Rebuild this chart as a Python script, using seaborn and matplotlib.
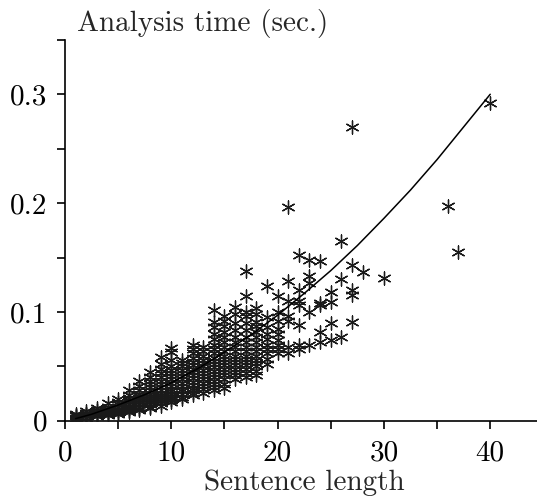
import matplotlib
matplotlib.use("Agg")
import matplotlib.pyplot as plt
import seaborn as sns

# how many sentences of each length were timed
lengths = list(range(1, 28)) + [28, 30, 36, 37, 40]
counts = [5, 6, 7, 8, 9, 11, 12, 14, 16, 17, 14, 16, 14, 19, 18, 16, 17, 15,
          10, 9, 7, 7, 5, 5, 4, 3, 5, 1, 1, 1, 1, 1]

# analysis times (sec.), grouped by sentence length in the same order
anal_time = [
    0.002, 0.003, 0.004, 0.005, 0.006,
    0.003, 0.004, 0.005, 0.006, 0.007, 0.009,
    0.004, 0.005, 0.006, 0.007, 0.008, 0.010, 0.012,
    0.005, 0.006, 0.007, 0.008, 0.009, 0.011, 0.013, 0.016,
    0.006, 0.007, 0.009, 0.010, 0.011, 0.013, 0.015, 0.017, 0.020,
    0.008, 0.009, 0.011, 0.012, 0.013, 0.015, 0.017, 0.019, 0.021, 0.024, 0.028,
    0.010, 0.011, 0.013, 0.015, 0.017, 0.019, 0.021, 0.023, 0.025, 0.028, 0.032, 0.037,
    0.012, 0.013, 0.015, 0.017, 0.019, 0.021, 0.023, 0.025, 0.028, 0.031, 0.034, 0.037,
    0.040, 0.045,
    0.014, 0.016, 0.018, 0.020, 0.022, 0.024, 0.026, 0.028, 0.031, 0.034, 0.037, 0.040,
    0.044, 0.048, 0.052, 0.059,
    0.017, 0.019, 0.021, 0.023, 0.025, 0.027, 0.029, 0.032, 0.035, 0.038, 0.041, 0.044,
    0.047, 0.050, 0.056, 0.063, 0.067,
    0.020, 0.022, 0.025, 0.027, 0.029, 0.032, 0.035, 0.038, 0.041, 0.044, 0.047, 0.050,
    0.053, 0.056,
    0.024, 0.026, 0.028, 0.030, 0.033, 0.036, 0.039, 0.042, 0.045, 0.048, 0.051, 0.054,
    0.058, 0.062, 0.066, 0.070,
    0.026, 0.029, 0.032, 0.035, 0.038, 0.041, 0.044, 0.047, 0.050, 0.053, 0.056, 0.060,
    0.064, 0.068,
    0.028, 0.031, 0.034, 0.037, 0.040, 0.043, 0.046, 0.049, 0.052, 0.055, 0.058, 0.062,
    0.066, 0.070, 0.075, 0.080, 0.086, 0.091, 0.102,
    0.030, 0.034, 0.038, 0.042, 0.045, 0.048, 0.051, 0.054, 0.057, 0.060, 0.064, 0.068,
    0.072, 0.077, 0.082, 0.087, 0.092, 0.096,
    0.038, 0.042, 0.045, 0.048, 0.051, 0.054, 0.057, 0.060, 0.064, 0.068, 0.072, 0.077,
    0.083, 0.090, 0.098, 0.105,
    0.040, 0.044, 0.048, 0.051, 0.054, 0.057, 0.060, 0.064, 0.068, 0.072, 0.077, 0.083,
    0.090, 0.096, 0.100, 0.115, 0.138,
    0.042, 0.046, 0.050, 0.053, 0.056, 0.060, 0.064, 0.068, 0.072, 0.077, 0.082, 0.087,
    0.091, 0.098, 0.104,
    0.052, 0.057, 0.062, 0.066, 0.070, 0.075, 0.080, 0.086, 0.095, 0.124,
    0.062, 0.066, 0.070, 0.074, 0.080, 0.084, 0.092, 0.100, 0.115,
    0.062, 0.068, 0.092, 0.096, 0.110, 0.128, 0.196,
    0.066, 0.070, 0.088, 0.106, 0.110, 0.120, 0.152,
    0.070, 0.100, 0.127, 0.133, 0.148,
    0.072, 0.082, 0.106, 0.108, 0.147,
    0.074, 0.090, 0.109, 0.118,
    0.077, 0.130, 0.165,
    0.091, 0.116, 0.120, 0.143, 0.270,
    0.137,
    0.131,
    0.197,
    0.155,
    0.292,
]
sent_len = [n for n, c in zip(lengths, counts) for _ in range(c)]

# fitted curve
curve_x = [1, 2.5, 5, 7.5, 10, 12.5, 15, 17.5, 20, 22.5, 25, 27.5, 30, 32.5, 35, 37.5, 40]
curve_y = [0.002, 0.006, 0.0145, 0.024, 0.035, 0.048, 0.063, 0.079, 0.097,
           0.117, 0.138, 0.161, 0.186, 0.212, 0.240, 0.270, 0.300]

x_ticks = [0, 5, 10, 15, 20, 25, 30, 35, 40]
x_labels = ["0", "", "10", "", "20", "", "30", "", "40"]
y_ticks = [0, 0.05, 0.1, 0.15, 0.2, 0.25, 0.3, 0.35]
y_labels = ["0", "", "0.1", "", "0.2", "", "0.3", ""]

sns.set_style("ticks")
plt.rcParams["font.family"] = ["cmr10", "DejaVu Serif"]
plt.rcParams["axes.formatter.use_mathtext"] = True

fig = plt.figure(figsize=(5.37, 4.98), dpi=100)
ax = fig.add_axes([0.121, 0.155, 0.879, 0.765])

sns.scatterplot(x=sent_len, y=anal_time, marker=(6, 2, 0), s=88,
                color="#1a1a1a", linewidth=0.95, ax=ax, zorder=3)
sns.lineplot(x=curve_x, y=curve_y, color="black", linewidth=1.1, ax=ax, zorder=4)

ax.set_xlim(0, 44.4)
ax.set_ylim(0, 0.35)
ax.set_xticks(x_ticks)
ax.set_xticklabels(x_labels)
ax.set_yticks(y_ticks)
ax.set_yticklabels(y_labels)
ax.tick_params(direction="out", length=6, width=1.2, labelsize=21, colors="black")
ax.tick_params(axis="x", pad=8)
ax.tick_params(axis="y", pad=6.5)
for side in ["left", "bottom"]:
    ax.spines[side].set_linewidth(1.2)
    ax.spines[side].set_color("black")
sns.despine(ax=ax)
ax.set_xlabel("")
ax.set_ylabel("")

fig.text(77 / 537, 1 - 31 / 498, "Analysis time (sec.)", fontsize=21, va="baseline")
fig.text(304 / 537, 0.017, "Sentence length", fontsize=21, ha="center", va="baseline")

fig.savefig("out.png", dpi=100)
